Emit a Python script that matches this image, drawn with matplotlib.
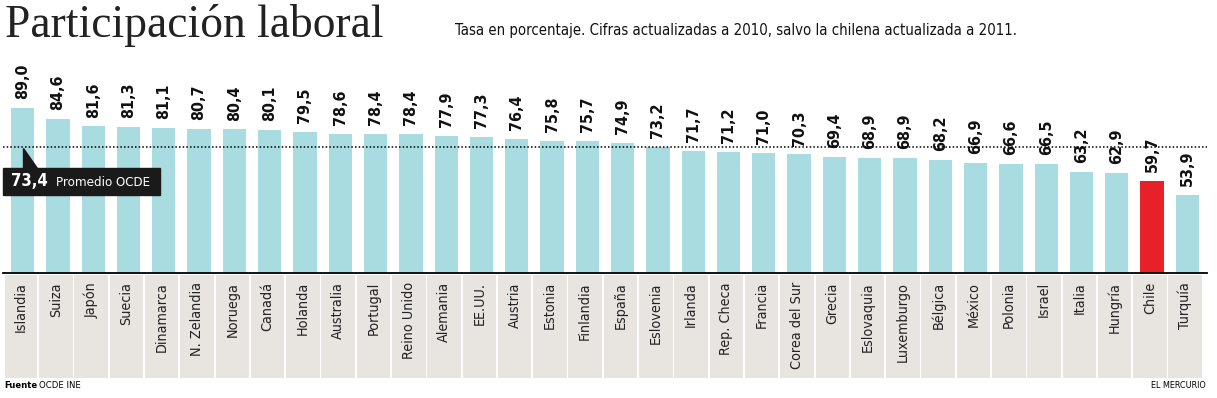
import matplotlib.pyplot as plt
from matplotlib.patches import Rectangle, Polygon

paises = ['Islandia', 'Suiza', 'Japón', 'Suecia', 'Dinamarca', 'N. Zelandia', 'Noruega',
          'Canadá', 'Holanda', 'Australia', 'Portugal', 'Reino Unido', 'Alemania', 'EE.UU.',
          'Austria', 'Estonia', 'Finlandia', 'España', 'Eslovenia', 'Irlanda', 'Rep. Checa',
          'Francia', 'Corea del Sur', 'Grecia', 'Eslovaquia', 'Luxemburgo', 'Bélgica',
          'México', 'Polonia', 'Israel', 'Italia', 'Hungría', 'Chile', 'Turquía']
tasa = [89.0, 84.6, 81.6, 81.3, 81.1, 80.7, 80.4, 80.1, 79.5, 78.6, 78.4, 78.4, 77.9, 77.3,
        76.4, 75.8, 75.7, 74.9, 73.2, 71.7, 71.2, 71.0, 70.3, 69.4, 68.9, 68.9, 68.2, 66.9,
        66.6, 66.5, 63.2, 62.9, 59.7, 53.9]
promedio = 73.4
destacado = 'Chile'

cond = dict(family='DejaVu Sans', stretch='condensed')
celeste = '#a9dce1'
rojo = '#e8202a'
beige = '#e8e4df'

fig = plt.figure(figsize=(12.17, 3.98), dpi=100)
W, H = 1217, 398

def box(x0, y0, x1, y1):
    return [x0 / W, 1 - y1 / H, (x1 - x0) / W, (y1 - y0) / H]

ax = fig.add_axes(box(5, 60, 1205, 273))
n = len(paises)
x = list(range(n))
colores = [rojo if p == destacado else celeste for p in paises]
ax.bar(x, tasa, width=0.66, color=colores, zorder=2)
ybot = 22.5
ax.set_xlim(-0.5, n - 0.5)
ax.set_ylim(ybot, 108.4)
ax.axis('off')

for xi, v in zip(x, tasa):
    ax.text(xi, v + 3.6, f'{v:.1f}'.replace('.', ','), rotation=90, ha='center', va='bottom',
            fontsize=11.5, fontweight='bold', color='#111111', **cond)

# linea base y promedio
ax.plot([-0.56, n - 0.44], [ybot, ybot], color='black', lw=1.3, clip_on=False, zorder=4)
ax.hlines(promedio, -0.56, n - 0.44, colors='black', linestyles=(0, (1, 1.4)), lw=1.1,
          clip_on=False, zorder=4)

# recuadro promedio OCDE
top = promedio - 8.5
bot = promedio - 19.4
ax.add_patch(Rectangle((-0.56, bot), 4.45, top - bot, color='#1a1a1a', zorder=5, clip_on=False))
ax.add_patch(Polygon([(0.0, promedio - 0.4), (0.0, top), (0.42, top)], closed=True,
                     color='#1a1a1a', zorder=5))
ax.text(-0.33, (top + bot) / 2, f'{promedio:.1f}'.replace('.', ','), color='white',
        fontsize=12, fontweight='bold', va='center', ha='left', zorder=6, **cond)
ax.text(0.95, (top + bot) / 2 - 0.3, 'Promedio OCDE', color='white', fontsize=9.5,
        va='center', ha='left', zorder=6, **cond)

# celdas de paises
axl = fig.add_axes(box(5, 275, 1205, 378))
axl.bar([xi - 0.06 for xi in x], [1] * n, width=0.95, color=beige)
axl.set_xlim(-0.5, n - 0.5)
axl.set_ylim(0, 1)
axl.axis('off')
for xi, p in zip(x, paises):
    axl.text(xi - 0.06, 0.93, p, rotation=90, ha='center', va='top', fontsize=10.3,
             color='#222222', **cond)

fig.text(5 / W, 1 - 37 / H, 'Participación laboral', family='Liberation Serif', fontsize=32.8,
         color='#222222', va='baseline', ha='left')
fig.text(455 / W, 1 - 30 / H, 'Tasa en porcentaje. Cifras actualizadas a 2010, salvo la chilena actualizada a 2011.',
         fontsize=10.7, va='center', ha='left', color='#111111', **cond)
fig.text(4 / W, 1 - 386 / H, 'Fuente', fontsize=6.8, fontweight='bold',
         va='center', ha='left', **cond)
fig.text(39 / W, 1 - 386 / H, 'OCDE INE', fontsize=6.8, va='center', ha='left', **cond)
fig.text(1206 / W, 1 - 386 / H, 'EL MERCURIO', fontsize=6.5, va='center', ha='right', **cond)

fig.savefig('out.png', dpi=100)
